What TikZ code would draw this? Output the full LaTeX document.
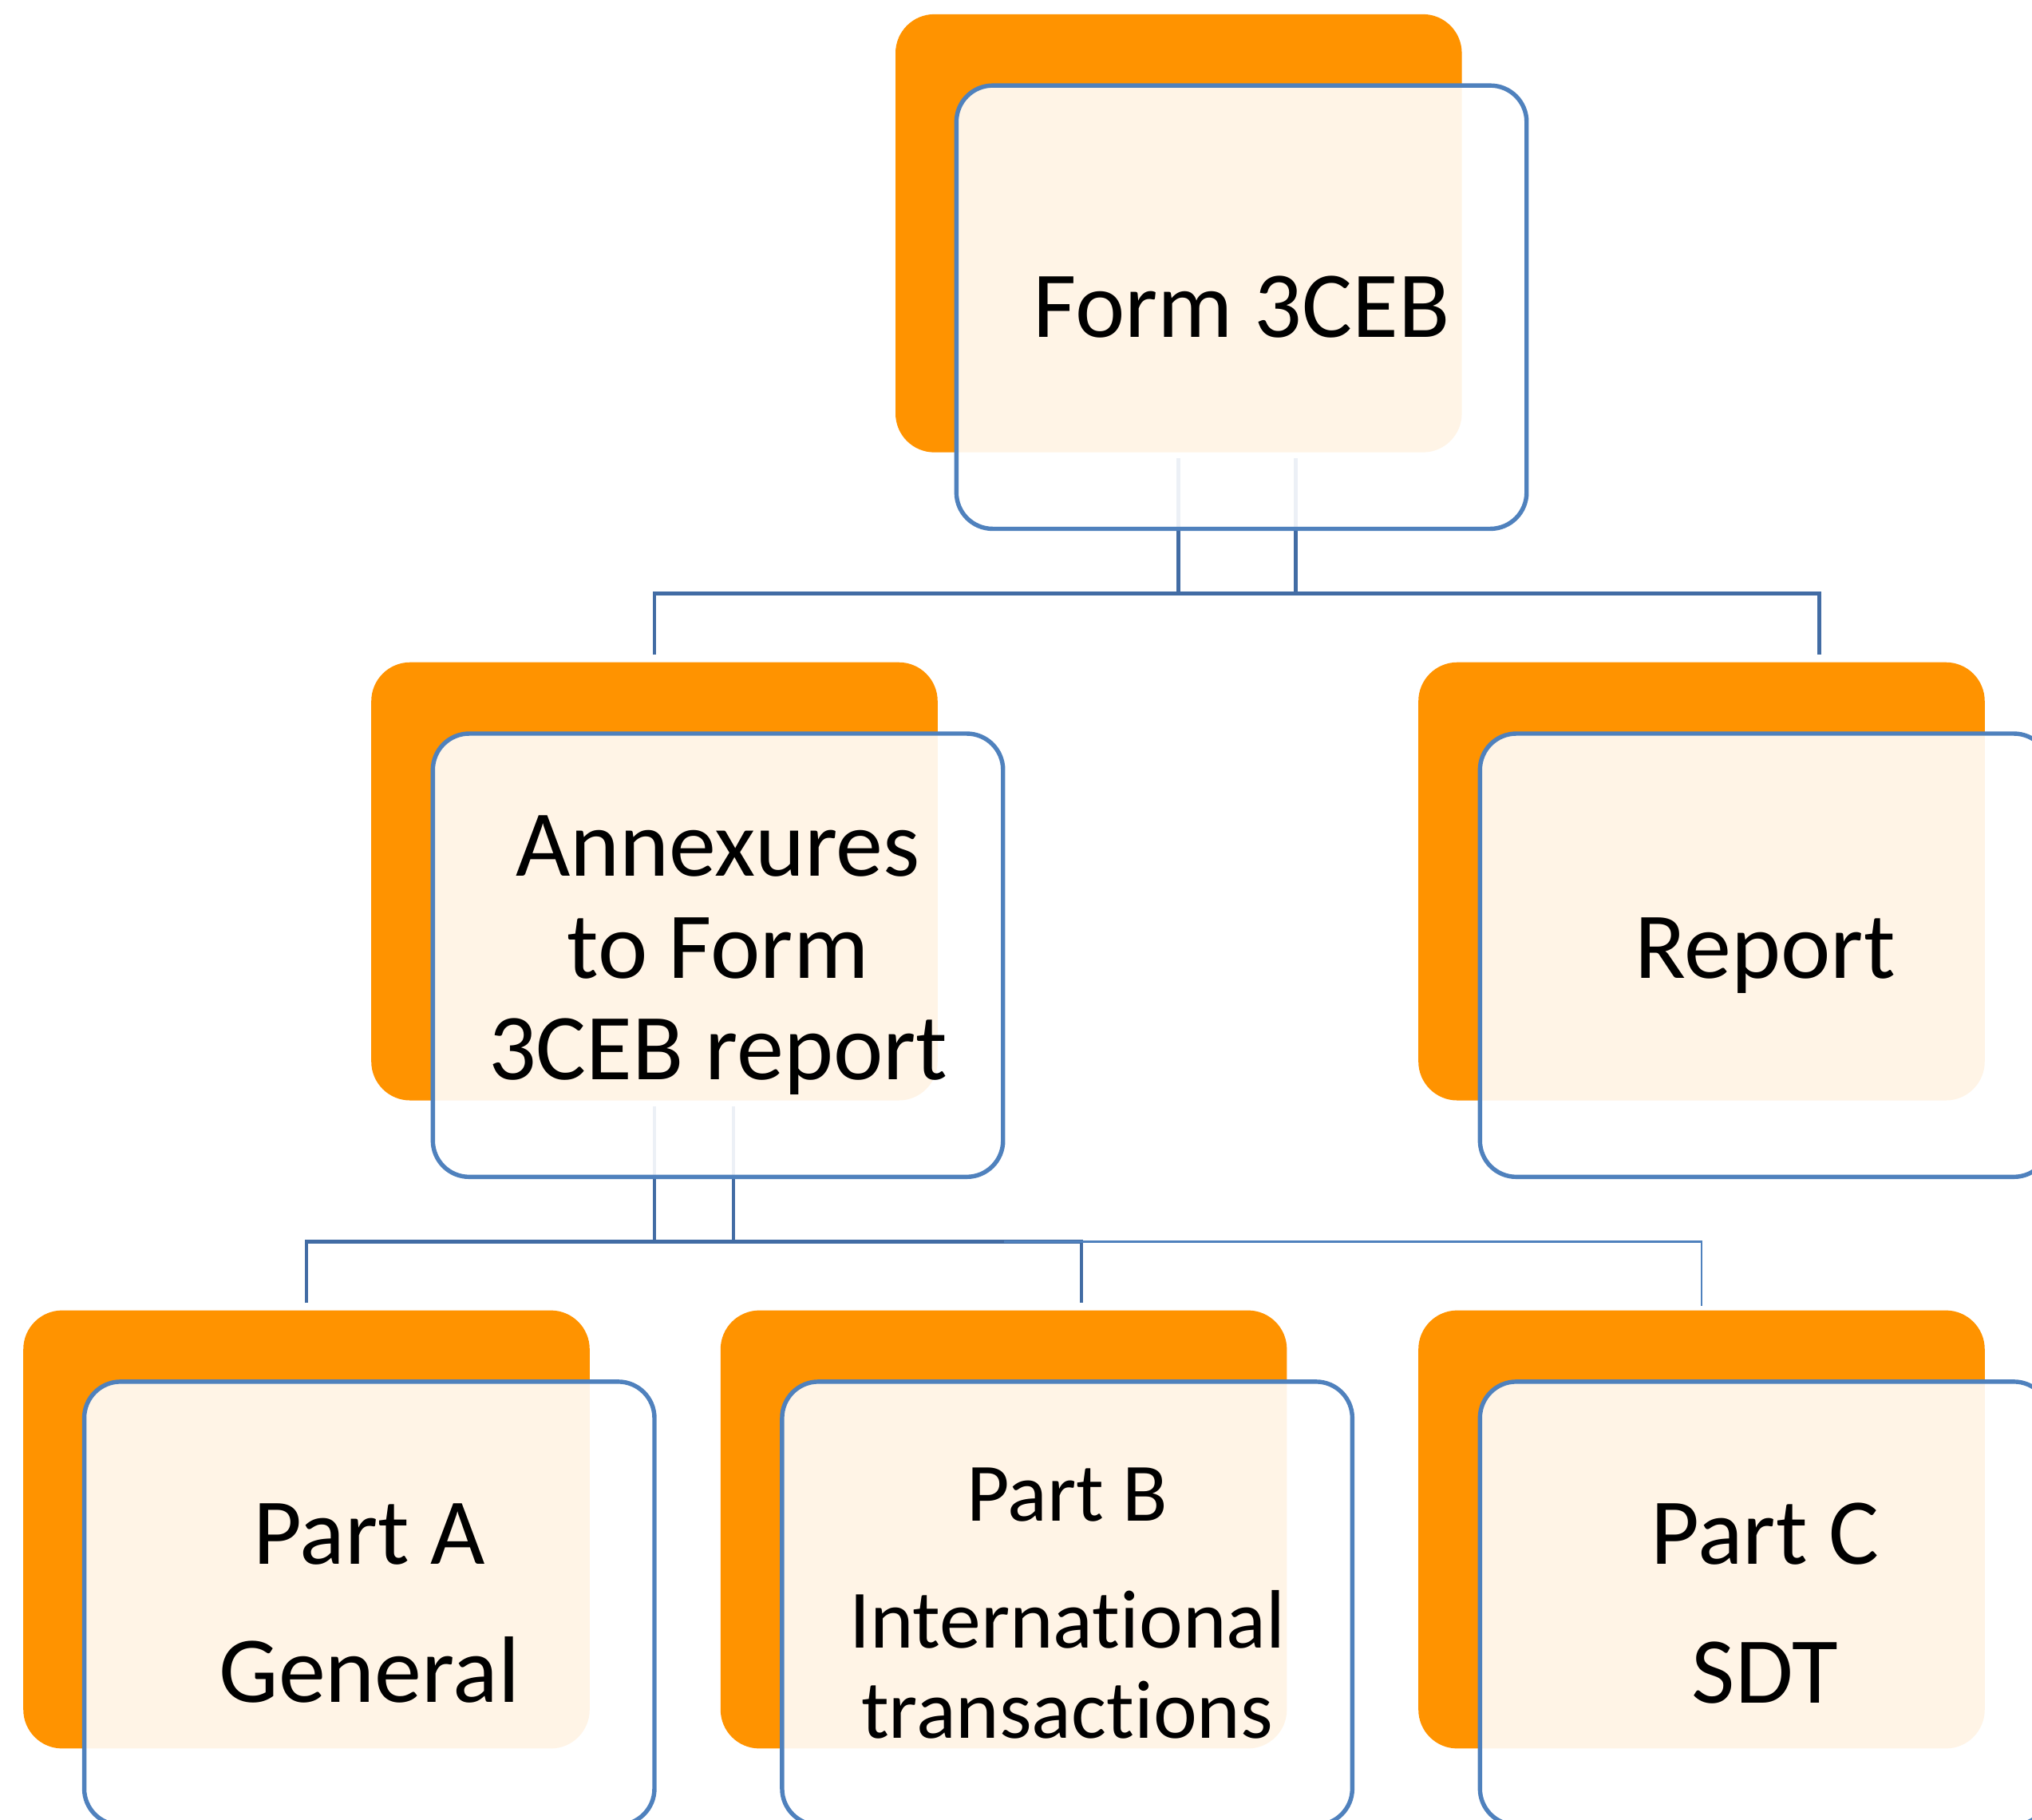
\documentclass[tikz,border=0pt]{standalone}
\usepackage{fontspec}
\setmainfont{Carlito}[Ligatures=NoCommon]
\usepackage{tikz}

\definecolor{tabOrange}{RGB}{255,147,0}
\definecolor{cardBlue}{RGB}{79,129,189}
\definecolor{linkBlue}{RGB}{66,108,164}

\begin{document}
\begin{tikzpicture}[
    back/.style={fill=tabOrange, rounded corners=0.3cm, minimum width=4.37cm, minimum height=3.38cm, inner sep=0pt},
    card/.style={draw=cardBlue, line width=0.95pt, fill=white, fill opacity=0.9, text opacity=1,
      rounded corners=0.28cm, minimum width=4.40cm, minimum height=3.42cm, inner sep=0pt,
      align=center, font=\fontsize{20.7}{22.4}\selectfont},
    link/.style={draw=linkBlue, line width=0.85pt},
    thinlink/.style={draw=cardBlue, line width=0.4pt}
  ]
    \clip (0, 0) rectangle (15.68, -14.04);
    \fill[white] (0, 0) rectangle (15.68, -14.04);

    % orange tabs behind the cards
    \node[back] (formbg) at (9.095, -1.80) {};
    \node[back] (annexbg) at (5.05, -6.80) {};
    \node[back] (reportbg) at (13.13, -6.80) {};
    \node[back] (partAbg) at (2.365, -11.80) {};
    \node[back] (partBbg) at (7.745, -11.80) {};
    \node[back] (partCbg) at (13.13, -11.80) {};

    % connectors
    \coordinate (bus1) at (9.095, -4.58);
    \coordinate (bus2) at (5.05, -9.58);
    \draw[link] ([yshift=-0.04cm]formbg.south) -- (bus1);
    \draw[link] ([shift={(0.905,-0.04)}]formbg.south) -- ++(0, -1.05);
    \draw[link] ([yshift=0.05cm]annexbg.north) |- (bus1) -| ([shift={(0.91,0.05)}]reportbg.north);
    \draw[link] ([yshift=-0.04cm]annexbg.south) -- (bus2);
    \draw[link] ([shift={(0.61,-0.04)}]annexbg.south) -- ++(0, -1.05);
    \draw[link] ([yshift=0.05cm]partAbg.north) |- (bus2) -| ([shift={(0.60,0.05)}]partBbg.north);
    \draw[thinlink] (partBbg.north |- bus2) -| ([yshift=0.03cm]partCbg.north);

    % cards
    \node[card] (form) at (9.58, -2.37) {Form 3CEB};
    \node[card] (annex) at (5.54, -7.37) {Annexures\\to Form\\3CEB report};
    \node[card] (report) at (13.62, -7.37) {Report};
    \node[card] (partA) at (2.85, -12.37) {Part A\\[8pt]General};
    \node[card, font=\fontsize{18.2}{19.8}\selectfont] (partB) at (8.235, -12.37) {Part B\\[8pt]International\\transactions};
    \node[card] (partC) at (13.62, -12.37) {Part C\\[8pt]SDT};
  \end{tikzpicture}
\end{document}
